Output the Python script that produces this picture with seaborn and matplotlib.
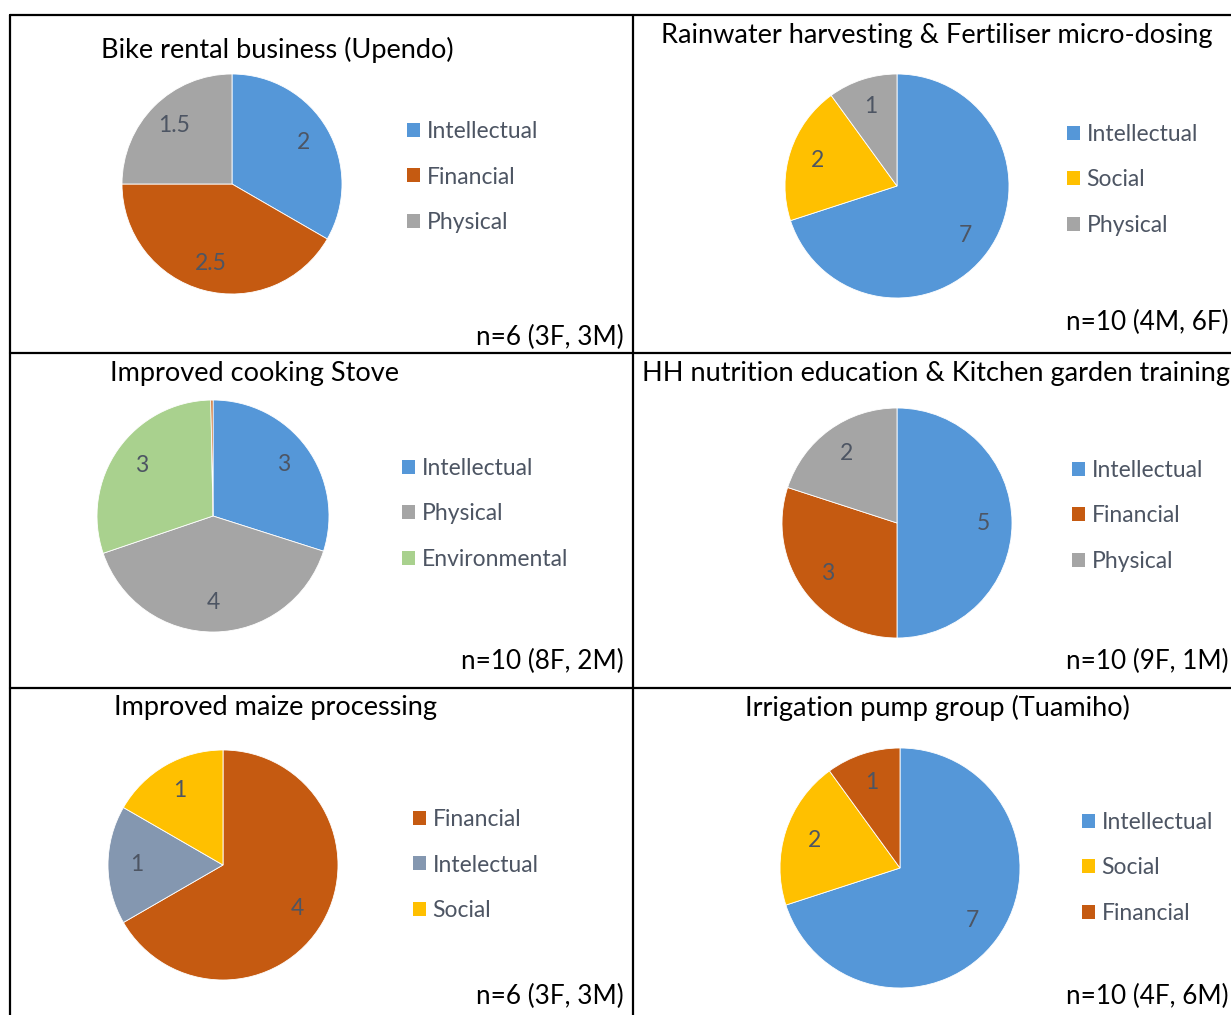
import matplotlib
matplotlib.use("Agg")
import matplotlib.pyplot as plt
from matplotlib.patches import Patch
from matplotlib.lines import Line2D
import seaborn as sns

# ---- data ----
bike_cats = ["Intellectual", "Financial", "Physical"]
bike_vals = [2, 2.5, 1.5]

rain_cats = ["Intellectual", "Social", "Physical"]
rain_vals = [7, 2, 1]

stove_cats = ["Intellectual", "Physical", "Environmental", "Financial"]
stove_vals = [3, 4, 3, 0.03]
stove_legend = ["Intellectual", "Physical", "Environmental"]

hh_cats = ["Intellectual", "Financial", "Physical"]
hh_vals = [5, 3, 2]

maize_cats = ["Financial", "Intelectual", "Social"]
maize_vals = [4, 1, 1]

irr_cats = ["Intellectual", "Social", "Financial"]
irr_vals = [7, 2, 1]

titles = [
    "Bike rental business (Upendo)",
    "Rainwater harvesting & Fertiliser micro-dosing",
    "Improved cooking Stove",
    "HH nutrition education & Kitchen garden training",
    "Improved maize processing",
    "Irrigation pump group (Tuamiho)",
]
samples = [
    "n=6 (3F, 3M)", "n=10 (4M, 6F)",
    "n=10 (8F, 2M)", "n=10 (9F, 1M)",
    "n=6 (3F, 3M)", "n=10 (4F, 6M)",
]

palette = dict(zip(
    ["Intellectual", "Financial", "Physical", "Social", "Environmental", "Intelectual"],
    sns.color_palette(["#5597d8", "#c55a11", "#a5a5a5", "#ffc000", "#a9d18e", "#8497b0"]),
))

sns.set_theme(style="white")
plt.rcParams["font.family"] = ["Lato", "DejaVu Sans"]

W, H = 1231, 1015
fig = plt.figure(figsize=(W / 100, H / 100), dpi=100)
LABEL_COL = "#4d5563"


def fx(x):
    return x / W


def fy(y):
    return 1 - y / H


def draw_panel(cats, vals, legend_cats, title, n_text, centre, r, leg_xy, title_x, title_y, n_x, n_y):
    cx, cy = centre
    ax = fig.add_axes([fx(cx - r), fy(cy + r), 2 * r / W, 2 * r / H])
    wedges, _, autotexts = ax.pie(
        vals,
        colors=[palette[c] for c in cats],
        startangle=90,
        counterclock=False,
        autopct="%1.1f",
        pctdistance=0.75,
        wedgeprops=dict(edgecolor="white", linewidth=0.6),
    )
    for t, v in zip(autotexts, vals):
        t.set_text(f"{v:g}" if v >= 0.5 else "")
        t.set_color(LABEL_COL)
        t.set_fontsize(16.5)
    ax.set_xlim(-1, 1)
    ax.set_ylim(-1, 1)
    ax.set_aspect("auto")

    handles = [Patch(facecolor=palette[c], edgecolor="none") for c in legend_cats]
    leg = fig.legend(
        handles, legend_cats,
        loc="center left", bbox_to_anchor=(fx(leg_xy[0]), fy(leg_xy[1])),
        frameon=False, fontsize=16.5, handlelength=0.55, handleheight=0.55,
        handletextpad=0.3, labelspacing=1.08, borderpad=0, borderaxespad=0,
    )
    for t in leg.get_texts():
        t.set_color(LABEL_COL)

    fig.text(fx(title_x), fy(title_y), title, ha="center", va="center", fontsize=19.5, color="black")
    fig.text(fx(n_x), fy(n_y), n_text, ha="right", va="center", fontsize=18.8, color="black")


draw_panel(bike_cats, bike_vals, bike_cats, titles[0], samples[0],
           (232, 184), 110, (407, 177), 277, 50, 624, 337)
draw_panel(rain_cats, rain_vals, rain_cats, titles[1], samples[1],
           (897, 186), 112, (1067, 180), 937, 35, 1229, 322)
draw_panel(stove_cats, stove_vals, stove_legend, titles[2], samples[2],
           (213, 516), 116, (402, 514), 255, 374, 624, 661)
draw_panel(hh_cats, hh_vals, hh_cats, titles[3], samples[3],
           (897, 523), 115, (1072, 516), 936, 374, 1229, 661)
draw_panel(maize_cats, maize_vals, maize_cats, titles[4], samples[4],
           (223, 865), 115, (413, 865), 275, 708, 624, 996)
draw_panel(irr_cats, irr_vals, irr_cats, titles[5], samples[5],
           (900, 868), 120, (1082, 868), 937, 708, 1229, 996)

# table grid
lw = 1.6
for y in (15, 353, 688):
    fig.add_artist(Line2D([fx(10), 1], [fy(y), fy(y)], color="black", lw=lw))
for x in (10, 633):
    fig.add_artist(Line2D([fx(x), fx(x)], [fy(15), 0], color="black", lw=lw))

fig.savefig("out.png", dpi=100)
